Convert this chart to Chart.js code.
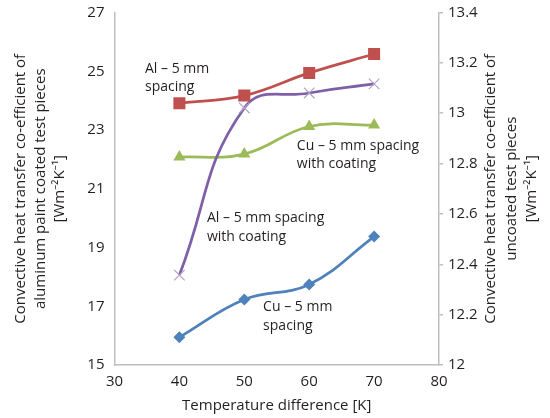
<!DOCTYPE html>
<html>
<head>
<meta charset="utf-8">
<script src="https://cdn.jsdelivr.net/npm/chart.js@4"></script>
<style>
  html, body { margin: 0; padding: 0; background: #ffffff; }
  #wrap { width: 550px; height: 418px; position: relative; }
</style>
</head>
<body>
<div id="wrap"><canvas id="c" width="550" height="418"></canvas></div>
<script>
// ---- data ----
const temperatures = [40, 50, 60, 70];
// right axis (uncoated)
const alSpacing = [13.04, 13.07, 13.16, 13.235];
const cuSpacing = [12.11, 12.26, 12.32, 12.51];
// left axis (aluminum paint coated)
const alCoating = [18.06, 23.75, 24.26, 24.57];
const cuCoating = [22.08, 22.18, 23.12, 23.17];

const xTicks = [30, 40, 50, 60, 70, 80];
const leftTicks = [15, 17, 19, 21, 23, 25, 27];
const rightTicks = [12, 12.2, 12.4, 12.6, 12.8, 13, 13.2, 13.4];

const leftTitle = ["Convective heat transfer co-efficient of", "aluminum paint coated test pieces", "[Wm\u207B\u00B2K\u207B\u00B9]"];
const rightTitle = ["Convective heat transfer co-efficient of", "uncoated test pieces", "[Wm\u207B\u00B2K\u207B\u00B9]"];
const xTitle = "Temperature difference [K]";

// series annotations: text lines and anchor (x value, left-axis value)
const annotations = [
  { lines: ["Al \u2013 5 mm", "spacing"], x: 34.7, y: 25.08 },
  { lines: ["Cu \u2013 5 mm spacing", "with coating"], x: 58.1, y: 22.46 },
  { lines: ["Al \u2013 5 mm spacing", "with coating"], x: 44.25, y: 20.0 },
  { lines: ["Cu \u2013 5 mm", "spacing"], x: 52.9, y: 16.97 }
];

const FONT = '"Open Sans", "Noto Sans", sans-serif';
const TXT = '#231f20';
const AXIS = '#bfbfbf';

const toPts = (arr) => arr.map((v, i) => ({ x: temperatures[i], y: v }));

const annotationPlugin = {
  id: 'seriesLabels',
  afterDatasetsDraw(chart) {
    const { ctx, scales, chartArea } = chart;
    ctx.save();
    ctx.font = '14px ' + FONT;
    ctx.fillStyle = TXT;
    ctx.textAlign = 'left';
    ctx.textBaseline = 'middle';
    annotations.forEach(a => {
      const px = scales.x.getPixelForValue(a.x);
      const py = scales.y.getPixelForValue(a.y);
      a.lines.forEach((t, i) => ctx.fillText(t, px, py + i * 18.5));
    });
    // right axis title, reading bottom-to-top like the left one
    const cy = (chartArea.top + chartArea.bottom) / 2;
    ctx.font = '15px ' + FONT;
    ctx.textAlign = 'center';
    const xs = [491, 511.5, 532];
    rightTitle.forEach((t, i) => {
      ctx.save();
      ctx.translate(xs[i], cy);
      ctx.rotate(-Math.PI / 2);
      ctx.fillText(t, 0, 0);
      ctx.restore();
    });
    ctx.restore();
  }
};

new Chart(document.getElementById('c'), {
  type: 'line',
  data: {
    datasets: [
      {
        label: 'Al – 5 mm spacing', data: toPts(alSpacing), yAxisID: 'y1',
        borderColor: '#c0504d', backgroundColor: '#c0504d', borderWidth: 2.75,
        pointStyle: 'rect', pointRadius: 8.5, pointHoverRadius: 8.5,
        pointBorderWidth: 0, tension: 0.4
      },
      {
        label: 'Al – 5 mm spacing with coating', data: toPts(alCoating), yAxisID: 'y',
        borderColor: '#7f5fa6', backgroundColor: '#b3a2c7', pointBorderColor: '#b3a2c7', borderWidth: 2.75,
        pointStyle: 'crossRot', pointRadius: 7.5, pointHoverRadius: 7.5,
        pointBorderWidth: 1.2, tension: 0.45
      },
      {
        label: 'Cu – 5 mm spacing with coating', data: toPts(cuCoating), yAxisID: 'y',
        borderColor: '#9bbb59', backgroundColor: '#9bbb59', borderWidth: 2.75,
        pointStyle: 'triangle', pointRadius: 7, pointHoverRadius: 7,
        pointBorderWidth: 0, tension: 0.4
      },
      {
        label: 'Cu – 5 mm spacing', data: toPts(cuSpacing), yAxisID: 'y1',
        borderColor: '#4f81bd', backgroundColor: '#4f81bd', borderWidth: 2.75,
        pointStyle: 'rectRot', pointRadius: 6, pointHoverRadius: 6,
        pointBorderWidth: 0, tension: 0.4
      }
    ]
  },
  options: {
    responsive: false,
    animation: false,
    events: [],
    layout: { padding: { top: 12.5, left: 0, right: 0, bottom: 0 } },
    plugins: { legend: { display: false }, tooltip: { enabled: false } },
    scales: {
      x: {
        type: 'linear', min: xTicks[0], max: xTicks[xTicks.length - 1],
        afterBuildTicks: (s) => { s.ticks = xTicks.map(v => ({ value: v })); },
        afterFit: (s) => { s.height = 53; s.paddingLeft = 0; s.paddingRight = 0; },
        grid: { display: false, drawTicks: false },
        border: { display: true, color: AXIS, width: 1.5 },
        ticks: { color: TXT, font: { family: FONT, size: 15 }, padding: 8, maxRotation: 0, autoSkip: false },
        title: { display: true, text: xTitle, color: TXT, font: { family: FONT, size: 15 }, padding: { top: 0, bottom: 3 } }
      },
      y: {
        position: 'left', min: 15, max: 27,
        afterBuildTicks: (s) => { s.ticks = leftTicks.map(v => ({ value: v })); },
        afterFit: (s) => { s.width = 114.5; s.paddingTop = 0; s.paddingBottom = 0; },
        grid: { display: false, drawTicks: false },
        border: { display: true, color: AXIS, width: 1.5 },
        ticks: { color: TXT, font: { family: FONT, size: 15 }, padding: 10, autoSkip: false },
        title: { display: true, text: leftTitle, color: TXT, font: { family: FONT, size: 15, lineHeight: 1.3 }, padding: { top: 11, bottom: 0 } }
      },
      y1: {
        position: 'right', min: 12, max: 13.4,
        afterBuildTicks: (s) => { s.ticks = rightTicks.map(v => ({ value: v })); },
        afterFit: (s) => { s.width = 111; s.paddingTop = 0; s.paddingBottom = 0; },
        grid: { display: true, drawOnChartArea: false, drawTicks: true, tickLength: 4, color: AXIS, lineWidth: 1.5 },
        border: { display: true, color: AXIS, width: 1.5 },
        ticks: { color: TXT, font: { family: FONT, size: 15 }, padding: 5, autoSkip: false,
                 callback: (v) => String(Math.round(v * 10) / 10) },
        title: { display: false }
      }
    }
  },
  plugins: [annotationPlugin]
});
</script>
</body>
</html>
